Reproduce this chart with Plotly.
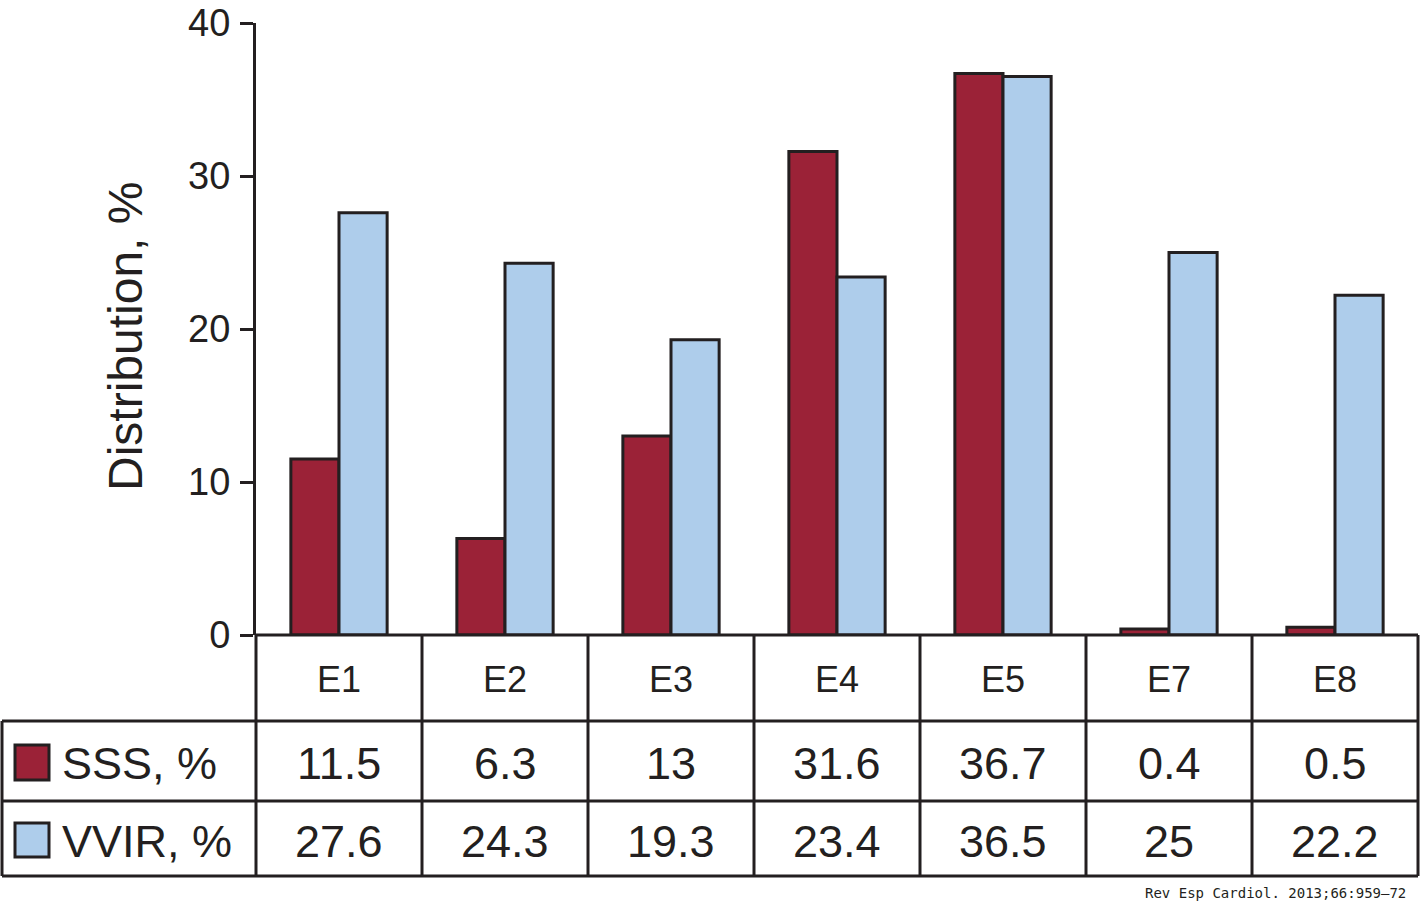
import plotly.graph_objects as go

# ---- data ----
categories = ["E1", "E2", "E3", "E4", "E5", "E7", "E8"]
sss_values = [11.5, 6.3, 13, 31.6, 36.7, 0.4, 0.5]
vvir_values = [27.6, 24.3, 19.3, 23.4, 36.5, 25, 22.2]
series_names = ["SSS, %", "VVIR, %"]
y_ticks = [0, 10, 20, 30, 40]
y_title = "Distribution, %"
credit = "Rev Esp Cardiol. 2013;66:959\u201372"

# ---- style ----
SSS_COLOR = "#9b2237"
VVIR_COLOR = "#aecdeb"
INK = "#231f20"
FONT = "Liberation Sans, Arial, sans-serif"

W, H = 1420, 918
ML, MR, MT, MB = 256, 2, 23, 283
PW = W - ML - MR
PH = H - MT - MB


def px(xpix):
    return (xpix - ML) / PW


def py(ypix):
    return (H - MB - ypix) / PH


fig = go.Figure()
fig.add_trace(go.Bar(x=categories, y=sss_values, name=series_names[0],
                     marker=dict(color=SSS_COLOR, line=dict(color=INK, width=3))))
fig.add_trace(go.Bar(x=categories, y=vvir_values, name=series_names[1],
                     marker=dict(color=VVIR_COLOR, line=dict(color=INK, width=3))))

shapes = []
row_lines = [py(721), py(801), py(876)]
left_edge = px(2)
n = len(categories)
# vertical lines of table
for k in range(n + 1):
    shapes.append(dict(type="line", xref="paper", yref="paper", x0=k / n, x1=k / n,
                       y0=0, y1=row_lines[-1], line=dict(color=INK, width=3)))
shapes.append(dict(type="line", xref="paper", yref="paper", x0=left_edge, x1=left_edge,
                   y0=row_lines[0], y1=row_lines[-1], line=dict(color=INK, width=3)))
for yl in row_lines:
    shapes.append(dict(type="line", xref="paper", yref="paper", x0=left_edge, x1=1,
                       y0=yl, y1=yl, line=dict(color=INK, width=3)))
shapes.append(dict(type="line", xref="paper", yref="paper", x0=0, x1=1,
                   y0=0, y1=0, line=dict(color=INK, width=3)))
# legend swatches
for (y0p, y1p), col in zip([(745, 780), (823, 857)], [SSS_COLOR, VVIR_COLOR]):
    shapes.append(dict(type="rect", xref="paper", yref="paper", x0=px(15), x1=px(49),
                       y0=py(y1p), y1=py(y0p), fillcolor=col, line=dict(color=INK, width=3)))


def ann(x, y, text, size, xref="paper", xanchor="center", **kw):
    return dict(x=x, xref=xref, y=y, yref="paper", text=text, showarrow=False,
                xanchor=xanchor, yanchor="middle",
                font=dict(size=size, color=INK, family=kw.pop("family", FONT)), **kw)


annotations = []
for i, c in enumerate(categories):
    annotations.append(ann(c, py(679), c, 36, xref="x"))
    annotations.append(ann(c, py(763), f"{sss_values[i]:g}", 45, xref="x"))
    annotations.append(ann(c, py(841), f"{vvir_values[i]:g}", 45, xref="x"))
for name, yc in zip(series_names, [763, 841]):
    annotations.append(ann(px(60), py(yc), name, 45, xanchor="left"))
annotations.append(ann(px(125), py(337), y_title, 48, textangle=-90))
annotations.append(ann(px(1408), py(893), credit, 14, xanchor="right",
                       family="DejaVu Sans Mono, monospace"))

fig.update_layout(
    width=W, height=H,
    margin=dict(l=ML, r=MR, t=MT, b=MB, pad=0),
    paper_bgcolor="white", plot_bgcolor="white",
    barmode="group", bargap=0.42, bargroupgap=0,
    showlegend=False,
    font=dict(family=FONT, color=INK),
    xaxis=dict(range=[-0.5, n - 0.5], showticklabels=False, ticks="", showgrid=False,
               zeroline=False, showline=False, fixedrange=True, automargin=False),
    yaxis=dict(range=[0, 40], tickvals=y_ticks, ticks="outside", ticklen=13, tickwidth=3,
               tickcolor=INK, showline=True, linewidth=3, linecolor=INK, showgrid=False,
               zeroline=False, tickfont=dict(size=38, color=INK, family=FONT),
               ticklabelstandoff=2, ticklabeloverflow="allow", automargin=False,
               fixedrange=True),
    shapes=shapes,
    annotations=annotations,
)

fig.write_html("out.html", config={"displayModeBar": False},
               post_script="document.body.style.margin='0';")
